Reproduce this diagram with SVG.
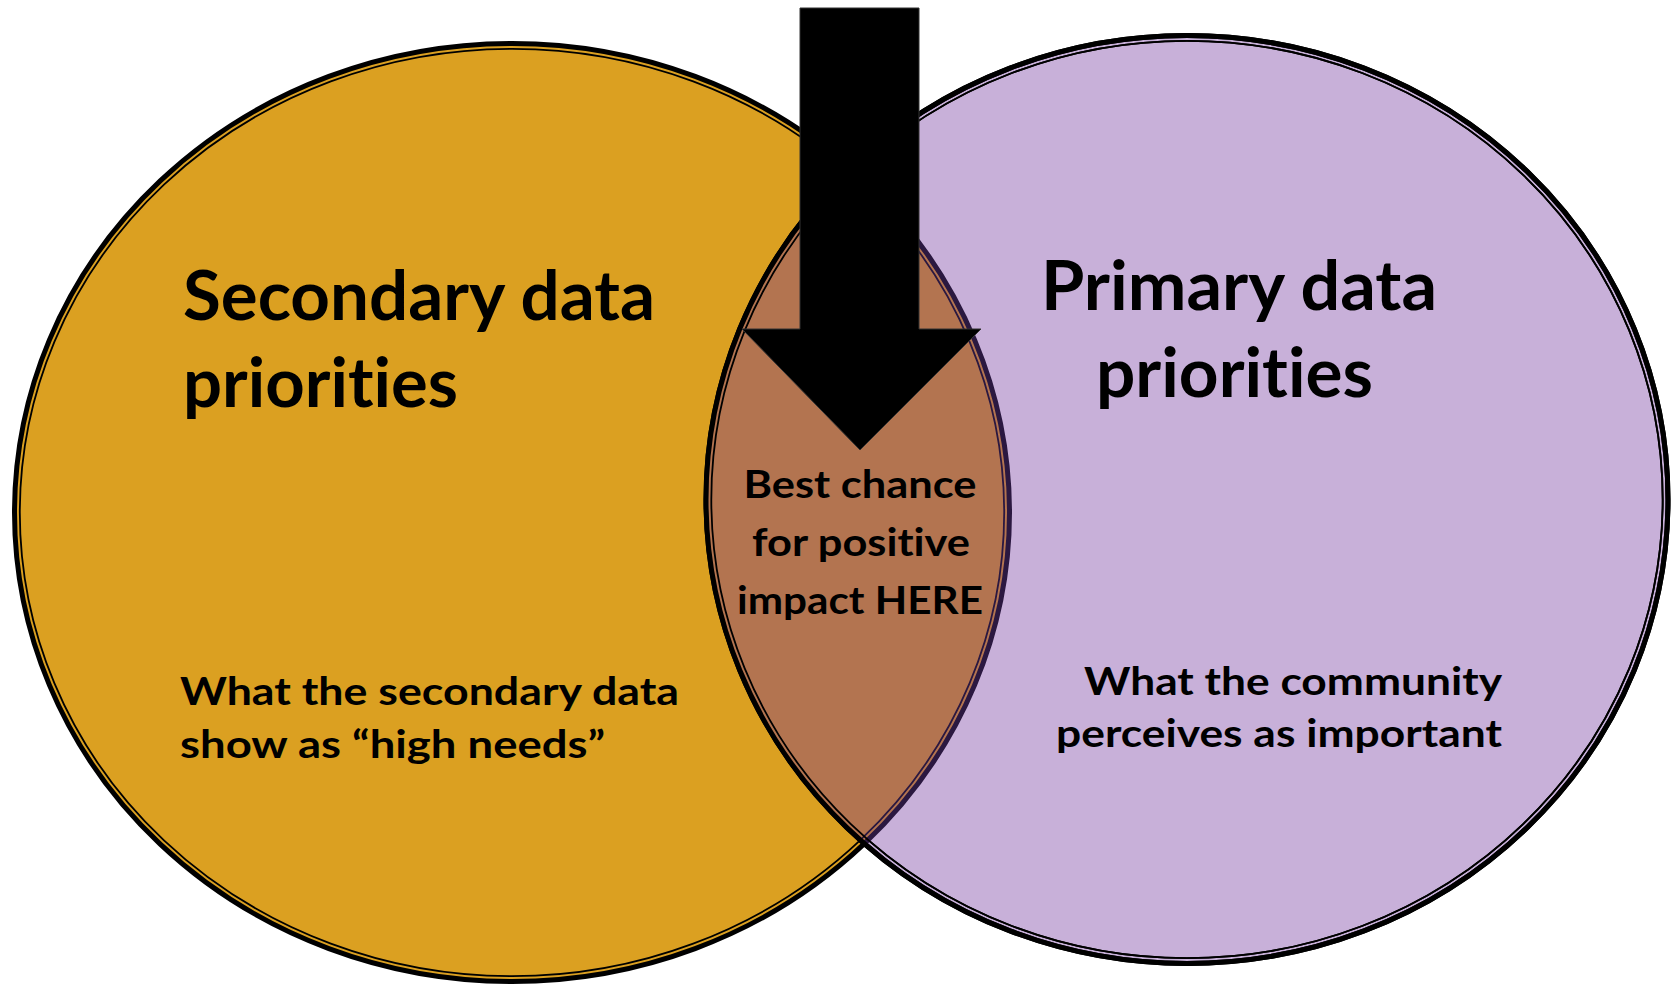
<svg xmlns="http://www.w3.org/2000/svg" width="1673" height="984" viewBox="0 0 1673 984">
  <style>
    .t { font-family: Lato, "Liberation Sans", sans-serif; font-weight: bold; fill: #000; font-variant-ligatures: none; font-feature-settings: "liga" 0, "clig" 0; }
    .big { font-size: 68px; }
    .sm { font-size: 39px; }
    .thick { fill: none; stroke-width: 5; }
    .thin { fill: none; stroke-width: 1.8; }
  </style>
  <defs>
    <clipPath id="clipRight">
      <ellipse cx="1187" cy="499.5" rx="481" ry="464"/>
    </clipPath>
  </defs>
  <rect width="1673" height="984" fill="#ffffff"/>

  <g id="node-secondary">
    <ellipse cx="512" cy="512.5" rx="497.5" ry="469" fill="#DBA021"/>
    <ellipse class="thick" cx="512" cy="512.5" rx="497.5" ry="469" stroke="#000"/>
    <ellipse class="thin" cx="512" cy="512.5" rx="492.2" ry="463.7" stroke="#000"/>
    <text class="t big" x="183" y="320" textLength="472" lengthAdjust="spacingAndGlyphs">Secondary data</text>
    <text class="t big" x="183" y="407" textLength="275" lengthAdjust="spacingAndGlyphs">priorities</text>
    <text class="t sm" x="180" y="705" textLength="499" lengthAdjust="spacingAndGlyphs">What the secondary data</text>
    <text class="t sm" x="180" y="758" textLength="425" lengthAdjust="spacingAndGlyphs">show as “high needs”</text>
  </g>

  <g id="node-primary">
    <ellipse cx="1187" cy="499.5" rx="481" ry="464" fill="#C8B0D9"/>
    <ellipse class="thick" cx="1187" cy="499.5" rx="481" ry="464" stroke="#000"/>
    <ellipse class="thin" cx="1187" cy="499.5" rx="475.7" ry="458.7" stroke="#000"/>
    <text class="t big" x="1041" y="310" textLength="396" lengthAdjust="spacingAndGlyphs">Primary data</text>
    <text class="t big" x="1096" y="397" textLength="277" lengthAdjust="spacingAndGlyphs">priorities</text>
    <text class="t sm" x="1502" y="695" text-anchor="end" textLength="418" lengthAdjust="spacingAndGlyphs">What the community</text>
    <text class="t sm" x="1502" y="747" text-anchor="end" textLength="446" lengthAdjust="spacingAndGlyphs">perceives as important</text>
  </g>

  <g id="node-overlap">
    <ellipse cx="512" cy="512.5" rx="497.5" ry="469" fill="#B37450" clip-path="url(#clipRight)"/>
    <g clip-path="url(#clipRight)">
      <ellipse class="thick" cx="512" cy="512.5" rx="497.5" ry="469" stroke="#2B1840"/>
      <ellipse class="thin" cx="512" cy="512.5" rx="492.2" ry="463.7" stroke="#2B1840"/>
    </g>
    <ellipse class="thick" cx="1187" cy="499.5" rx="481" ry="464" stroke="#000"/>
    <ellipse class="thin" cx="1187" cy="499.5" rx="475.7" ry="458.7" stroke="#000"/>
  </g>

  <g id="connectors">
    <polygon points="800,8 919,8 919,329 981,329 860,450 742,329 800,329" fill="#000" stroke="#333" stroke-width="1"/>
  </g>

  <g id="node-overlap-label">
    <text class="t sm" x="860" y="498" text-anchor="middle" textLength="233" lengthAdjust="spacingAndGlyphs">Best chance</text>
    <text class="t sm" x="861" y="556" text-anchor="middle" textLength="218" lengthAdjust="spacingAndGlyphs">for positive</text>
    <text class="t sm" x="860" y="614" text-anchor="middle" textLength="246" lengthAdjust="spacingAndGlyphs">impact HERE</text>
  </g>
</svg>
